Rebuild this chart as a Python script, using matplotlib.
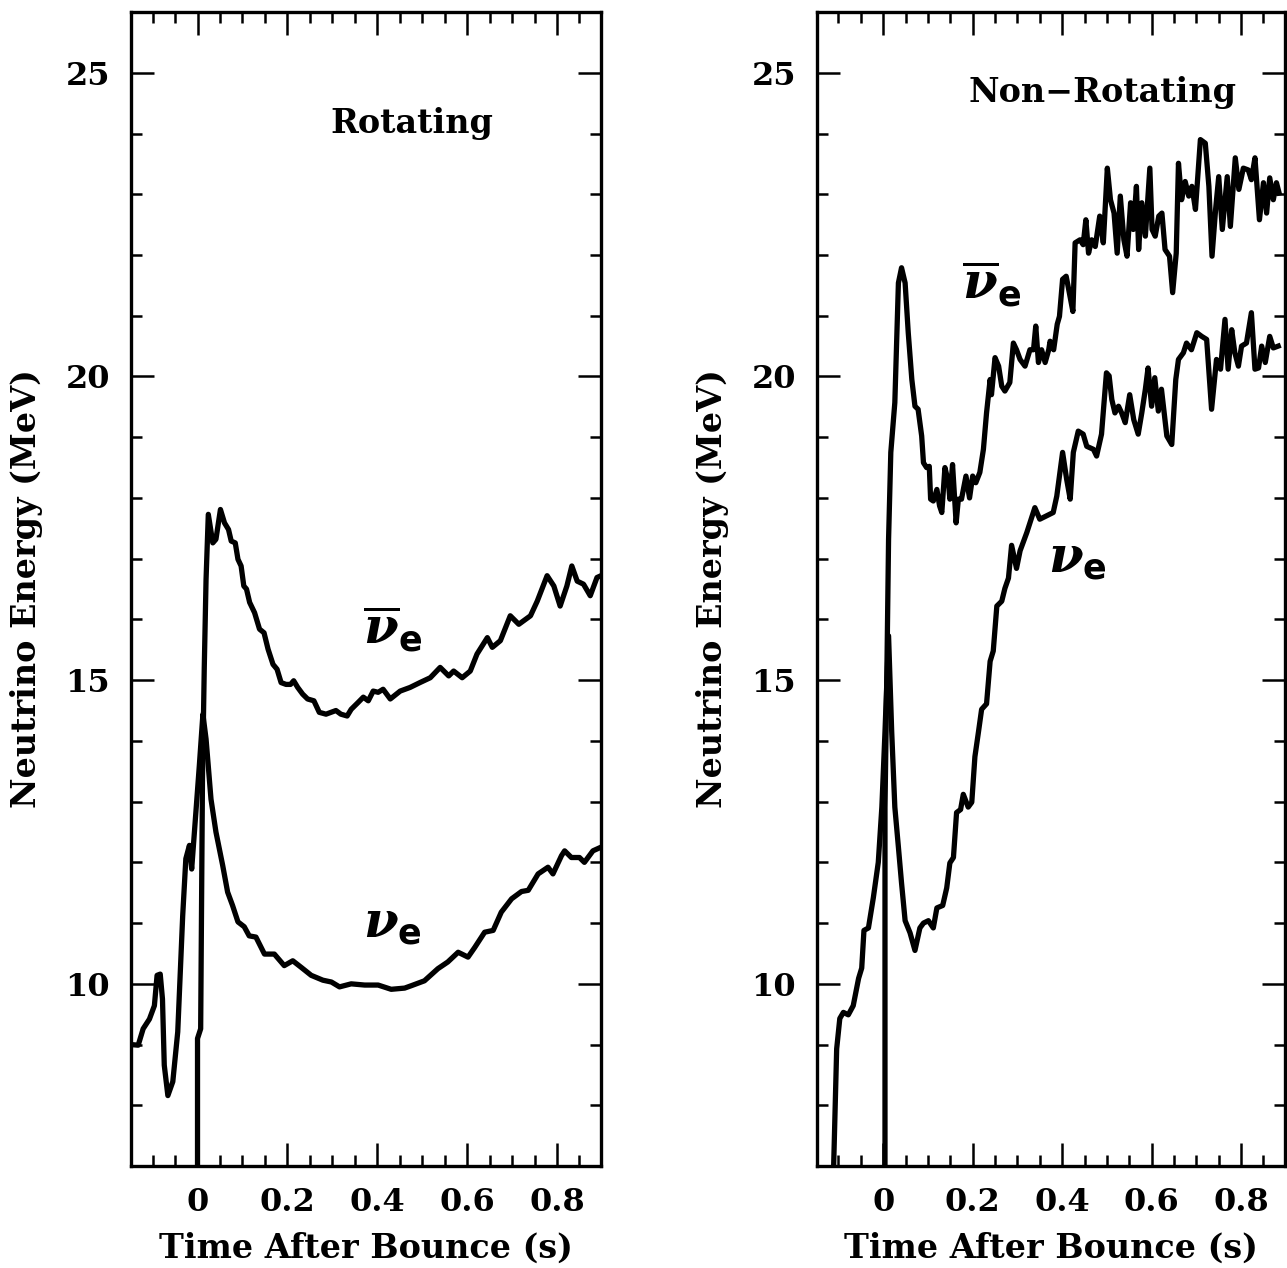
import matplotlib
matplotlib.use("Agg")
import matplotlib.pyplot as plt
from matplotlib.ticker import MultipleLocator

plt.rcParams['font.family'] = 'DejaVu Serif'
plt.rcParams['font.weight'] = 'bold'
plt.rcParams['axes.labelweight'] = 'bold'
plt.rcParams['mathtext.fontset'] = 'dejavuserif'

# rotating model: electron neutrino mean energy (MeV) vs time after bounce (s)
t_rot_nue = [-0.148, -0.132, -0.121, -0.107, -0.096, -0.090, -0.083, -0.078, -0.074,
             -0.066, -0.055, -0.044, -0.033, -0.026, -0.018, -0.013, -0.007, 0.004,
             0.012, 0.019, 0.030, 0.041, 0.056, 0.067, 0.078, 0.090, 0.104, 0.115,
             0.130, 0.149, 0.171, 0.193, 0.212, 0.231, 0.253, 0.279, 0.298, 0.316,
             0.342, 0.372, 0.402, 0.431, 0.461, 0.476, 0.505, 0.535, 0.557, 0.580,
             0.602, 0.617, 0.639, 0.658, 0.676, 0.699, 0.721, 0.736, 0.758, 0.780,
             0.791, 0.810, 0.817, 0.832, 0.850, 0.861, 0.880, 0.898]
e_rot_nue = [9.00, 8.99, 9.26, 9.42, 9.64, 10.14, 10.16, 9.75, 8.66,
             8.16, 8.39, 9.21, 11.12, 12.06, 12.28, 11.89, 12.49, 13.59,
             14.44, 14.03, 13.04, 12.50, 11.95, 11.51, 11.29, 11.02, 10.94, 10.79,
             10.77, 10.49, 10.49, 10.30, 10.38, 10.27, 10.14, 10.06, 10.03, 9.95,
             10.00, 9.98, 9.98, 9.91, 9.93, 9.97, 10.05, 10.25, 10.36, 10.52,
             10.44, 10.60, 10.85, 10.88, 11.18, 11.40, 11.52, 11.54, 11.81, 11.92,
             11.81, 12.11, 12.19, 12.08, 12.08, 12.00, 12.19, 12.25]

# rotating model: electron antineutrino
t_rot_nuebar = [0.000, 0.000, 0.007, 0.011, 0.015, 0.019, 0.024, 0.034, 0.041, 0.051,
                0.060, 0.069, 0.075, 0.084, 0.090, 0.097, 0.103, 0.109, 0.116, 0.127,
                0.138, 0.148, 0.157, 0.168, 0.177, 0.186, 0.197, 0.207, 0.214, 0.223,
                0.234, 0.245, 0.259, 0.271, 0.286, 0.297, 0.308, 0.319, 0.333, 0.342,
                0.357, 0.369, 0.380, 0.391, 0.402, 0.413, 0.429, 0.451, 0.473, 0.495,
                0.518, 0.540, 0.559, 0.570, 0.589, 0.607, 0.622, 0.645, 0.656, 0.674,
                0.696, 0.715, 0.741, 0.756, 0.778, 0.793, 0.807, 0.822, 0.833, 0.845,
                0.859, 0.874, 0.889, 0.898]
e_rot_nuebar = [5.50, 9.10, 9.26, 13.37, 15.20, 16.66, 17.73, 17.26, 17.32, 17.81,
                17.59, 17.48, 17.29, 17.26, 16.99, 16.88, 16.55, 16.50, 16.28, 16.11,
                15.84, 15.78, 15.51, 15.26, 15.18, 14.96, 14.93, 14.93, 14.99, 14.88,
                14.77, 14.69, 14.66, 14.47, 14.44, 14.47, 14.50, 14.44, 14.41, 14.52,
                14.63, 14.72, 14.66, 14.82, 14.80, 14.85, 14.69, 14.82, 14.88, 14.96,
                15.04, 15.21, 15.07, 15.15, 15.04, 15.15, 15.43, 15.70, 15.54, 15.65,
                16.06, 15.92, 16.06, 16.30, 16.72, 16.55, 16.22, 16.55, 16.88, 16.63,
                16.58, 16.39, 16.69, 16.72]

# non-rotating model: electron neutrino
t_nrot_nue = [-0.116, -0.104, -0.097, -0.089, -0.078, -0.067, -0.055, -0.048, -0.043,
              -0.033, -0.022, -0.011, -0.003, 0.004, 0.012, 0.019, 0.026, 0.034, 0.041,
              0.049, 0.060, 0.071, 0.082, 0.090, 0.101, 0.112, 0.120, 0.133, 0.142,
              0.149, 0.157, 0.164, 0.173, 0.179, 0.190, 0.198, 0.205, 0.213, 0.220,
              0.231, 0.239, 0.246, 0.254, 0.265, 0.272, 0.280, 0.287, 0.298, 0.306,
              0.321, 0.339, 0.350, 0.380, 0.388, 0.401, 0.410, 0.418, 0.425, 0.436,
              0.447, 0.455, 0.470, 0.477, 0.488, 0.493, 0.499, 0.505, 0.511, 0.518,
              0.526, 0.533, 0.541, 0.551, 0.560, 0.570, 0.578, 0.586, 0.592, 0.600,
              0.607, 0.615, 0.622, 0.634, 0.645, 0.654, 0.660, 0.671, 0.678, 0.689,
              0.701, 0.712, 0.723, 0.734, 0.745, 0.754, 0.764, 0.771, 0.779, 0.786,
              0.794, 0.801, 0.812, 0.823, 0.831, 0.839, 0.846, 0.854, 0.864, 0.872,
              0.883]
e_nrot_nue = [5.50, 8.93, 9.43, 9.53, 9.49, 9.64, 10.09, 10.26, 10.88,
              10.92, 11.42, 12.00, 12.91, 14.15, 15.73, 14.15, 12.91, 12.25, 11.66,
              11.04, 10.84, 10.55, 10.92, 11.00, 11.04, 10.92, 11.25, 11.29, 11.58,
              11.99, 12.08, 12.82, 12.87, 13.12, 12.91, 12.99, 13.74, 14.15, 14.52,
              14.61, 15.31, 15.48, 16.22, 16.30, 16.51, 16.68, 17.22, 16.84, 17.13,
              17.43, 17.84, 17.65, 17.76, 18.03, 18.75, 18.31, 17.98, 18.75, 19.10,
              19.05, 18.85, 18.80, 18.69, 19.05, 19.51, 20.06, 20.01, 19.62, 19.40,
              19.51, 19.40, 19.24, 19.70, 19.29, 19.05, 19.40, 19.79, 20.14, 19.51,
              19.98, 19.43, 19.79, 19.02, 18.88, 19.95, 20.28, 20.39, 20.55, 20.44,
              20.72, 20.66, 20.61, 19.46, 20.28, 20.12, 20.94, 20.12, 20.77, 20.39,
              20.17, 20.50, 20.55, 21.05, 20.12, 20.14, 20.50, 20.23, 20.66, 20.47,
              20.50]

# non-rotating model: electron antineutrino
t_nrot_nuebar = [0.004, 0.004, 0.008, 0.012, 0.017, 0.026, 0.034, 0.041, 0.049, 0.056,
                 0.064, 0.071, 0.078, 0.086, 0.090, 0.097, 0.103, 0.106, 0.112, 0.120,
                 0.126, 0.131, 0.138, 0.146, 0.149, 0.155, 0.163, 0.168, 0.175, 0.185,
                 0.193, 0.200, 0.207, 0.216, 0.224, 0.231, 0.239, 0.242, 0.250, 0.258,
                 0.265, 0.272, 0.283, 0.291, 0.298, 0.306, 0.317, 0.328, 0.336, 0.341,
                 0.347, 0.354, 0.362, 0.370, 0.373, 0.381, 0.389, 0.394, 0.401, 0.409,
                 0.416, 0.424, 0.429, 0.440, 0.447, 0.453, 0.459, 0.466, 0.474, 0.484,
                 0.492, 0.501, 0.508, 0.516, 0.523, 0.530, 0.538, 0.545, 0.553, 0.559,
                 0.566, 0.571, 0.578, 0.586, 0.596, 0.601, 0.608, 0.616, 0.623, 0.630,
                 0.640, 0.647, 0.655, 0.660, 0.667, 0.675, 0.683, 0.690, 0.698, 0.709,
                 0.720, 0.728, 0.735, 0.743, 0.750, 0.758, 0.769, 0.776, 0.787, 0.795,
                 0.805, 0.816, 0.823, 0.831, 0.841, 0.850, 0.857, 0.864, 0.872, 0.879,
                 0.885]
e_nrot_nuebar = [5.50, 12.90, 15.00, 17.32, 18.75, 19.57, 21.54, 21.79, 21.54, 20.72,
                 19.95, 19.51, 19.46, 19.02, 18.58, 18.50, 18.52, 17.98, 17.95, 18.14,
                 17.87, 17.76, 18.50, 18.25, 17.98, 18.55, 17.59, 17.98, 17.98, 18.36,
                 18.00, 18.36, 18.25, 18.42, 18.80, 19.40, 19.95, 19.70, 20.31, 20.17,
                 19.84, 19.76, 19.90, 20.55, 20.44, 20.28, 20.17, 20.44, 20.44, 20.83,
                 20.23, 20.44, 20.23, 20.44, 20.58, 20.44, 20.86, 20.99, 21.60, 21.65,
                 21.38, 21.07, 22.20, 22.25, 22.17, 22.58, 22.03, 22.25, 22.14, 22.64,
                 22.20, 23.43, 22.91, 22.69, 22.03, 22.97, 22.25, 21.98, 22.86, 22.42,
                 23.13, 22.09, 22.86, 22.31, 23.43, 22.42, 22.31, 22.64, 22.69, 22.09,
                 21.98, 21.38, 22.03, 23.51, 22.91, 23.21, 22.97, 23.13, 22.75, 23.90,
                 23.84, 23.13, 21.98, 22.75, 23.29, 22.42, 23.29, 22.47, 23.60, 23.08,
                 23.43, 23.40, 23.24, 23.60, 22.58, 23.19, 22.69, 23.27, 22.91, 23.19,
                 23.02]

panels = [
    ("Rotating", (0.478, 24.16), t_rot_nue, e_rot_nue, t_rot_nuebar, e_rot_nuebar,
     (0.433, 15.84), (0.433, 10.99)),
    ("Non\u2212Rotating", (0.49, 24.67), t_nrot_nue, e_nrot_nue, t_nrot_nuebar, e_nrot_nuebar,
     (0.242, 21.51), (0.435, 16.99)),
]

fig = plt.figure(figsize=(12.87, 12.68), dpi=100)
axes_rects = [[0.1018, 0.0804, 0.3652, 0.9101], [0.6348, 0.0804, 0.3636, 0.9101]]

for rect, (title, tpos, tn, en, tb, eb, bar_pos, nue_pos) in zip(axes_rects, panels):
    ax = fig.add_axes(rect)
    ax.plot(tn, en, color='black', lw=3.8, solid_joinstyle='round')
    ax.plot(tb, eb, color='black', lw=3.8, solid_joinstyle='round')
    ax.set_xlim(-0.148, 0.898)
    ax.set_ylim(7, 26)

    ax.xaxis.set_minor_locator(MultipleLocator(0.05))
    ax.yaxis.set_minor_locator(MultipleLocator(1))
    ax.set_xticks([0, 0.2, 0.4, 0.6, 0.8])
    ax.set_xticklabels(['0', '0.2', '0.4', '0.6', '0.8'])
    ax.set_yticks([10, 15, 20, 25])
    ax.tick_params(which='both', direction='in', top=True, right=True, width=1.8)
    ax.tick_params(which='major', length=16.5, labelsize=23, pad=15)
    ax.tick_params(which='minor', length=8)
    ax.tick_params(axis='x', which='major', pad=15)
    for sp in ax.spines.values():
        sp.set_linewidth(2.4)

    ax.set_xlabel('Time After Bounce (s)', fontsize=24, labelpad=10)
    ax.set_ylabel('Neutrino Energy (MeV)', fontsize=24, labelpad=16)

    ax.text(*tpos, title, fontsize=24, ha='center', va='center')
    ax.text(*bar_pos, r'$\overline{\nu}_{\mathsf{e}}$', fontsize=36, ha='center', va='center')
    ax.text(*nue_pos, r'$\nu_{\mathsf{e}}$', fontsize=36, ha='center', va='center')

fig.savefig('out.png', dpi=100)
